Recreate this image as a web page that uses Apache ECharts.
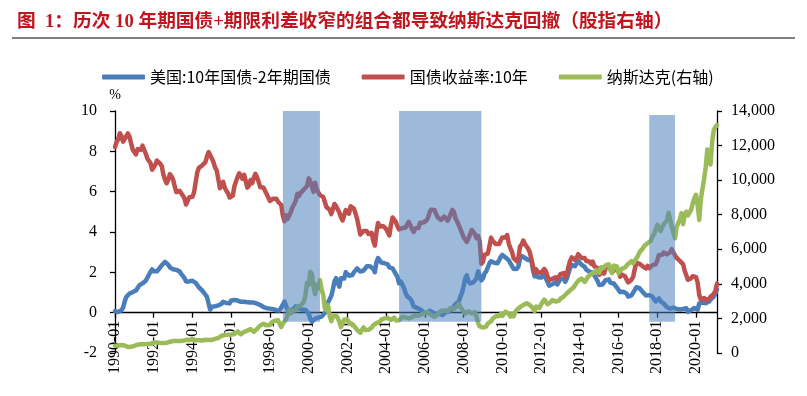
<!DOCTYPE html>
<html>
<head>
<meta charset="utf-8">
<script src="https://cdn.jsdelivr.net/npm/echarts@6/dist/echarts.min.js"></script>
<style>
    body { margin: 0; background: #fff; }
    #pageEcharts { width: 807px; height: 396px; }
</style>
</head>
<body>
<div id="pageEcharts"></div>
<script>
// 月度数据 1990-01 ~ 2021-02
var months = [];
for (var y = 1990; y <= 2021; y++) {
    for (var m = 1; m <= 12; m++) {
        if (y === 2021 && m > 2) break;
        months.push(y + '-' + (m < 10 ? '0' + m : m));
    }
}

// 美国:10年国债-2年期国债 (%)
var spread = [
    0.08,0.05,0.03,0.06,0.12,0.25,0.55,0.78,0.85,0.95,0.98,1.02,
    1.05,1.10,1.22,1.35,1.40,1.45,1.42,1.58,1.72,1.88,2.02,2.15,
    2.05,2.10,2.05,2.15,2.25,2.35,2.42,2.52,2.58,2.38,2.25,2.20,
    2.15,2.18,2.12,2.15,2.05,1.92,1.82,1.72,1.55,1.50,1.55,1.60,
    1.58,1.50,1.48,1.40,1.25,1.18,1.10,1.00,0.92,0.78,0.45,0.15,
    0.30,0.30,0.32,0.40,0.36,0.30,0.44,0.54,0.53,0.48,0.53,0.46,
    0.61,0.68,0.63,0.58,0.60,0.55,0.54,0.50,0.54,0.57,0.52,0.45,
    0.50,0.48,0.50,0.45,0.45,0.42,0.38,0.31,0.28,0.30,0.22,0.24,
    0.20,0.19,0.17,0.13,0.12,0.09,0.11,0.13,0.40,0.55,0.34,0.13,
    0.14,0.13,0.20,0.21,0.32,0.29,0.20,0.18,0.15,0.23,0.15,0.08,
    -0.05,-0.30,-0.45,-0.38,-0.30,-0.28,-0.25,-0.26,-0.20,-0.10,-0.05,0.09,
    0.50,0.58,0.83,1.15,1.55,1.71,1.49,1.29,1.71,1.80,1.69,2.01,
    1.96,1.83,1.92,1.87,2.00,2.01,2.19,2.13,2.04,2.03,2.09,2.10,
    2.30,2.27,2.30,2.36,2.17,2.01,2.51,2.71,2.63,2.48,2.44,2.45,
    2.39,2.39,2.25,2.28,2.20,2.13,1.91,1.77,1.45,1.55,1.40,1.24,
    0.99,0.81,0.80,0.69,0.54,0.31,0.26,0.24,0.22,0.17,0.11,0.03,
    0.02,-0.02,0.02,0.09,0.14,0.01,-0.04,-0.07,-0.05,-0.07,-0.12,-0.11,
    -0.04,0.02,0.08,0.05,0.02,0.19,0.28,0.43,0.52,0.53,0.80,0.98,
    1.30,1.70,1.85,1.55,1.45,1.40,1.50,1.60,1.70,2.05,2.10,1.60,
    1.70,1.95,2.05,2.10,2.45,2.55,2.46,2.47,2.42,2.45,2.60,2.76,
    2.86,2.85,2.73,2.80,2.60,2.44,2.42,2.17,2.18,2.18,2.30,2.70,
    2.81,2.81,2.71,2.73,2.61,2.60,2.60,2.10,1.80,1.90,1.76,1.72,
    1.74,1.69,1.86,1.78,1.52,1.34,1.29,1.41,1.49,1.51,1.40,1.46,
    1.65,1.72,1.70,1.53,1.69,1.96,2.22,2.37,2.42,2.30,2.43,2.57,
    2.49,2.38,2.31,2.27,2.13,2.15,2.03,1.96,1.97,1.85,1.81,1.57,
    1.37,1.36,1.39,1.38,1.61,1.66,1.65,1.48,1.45,1.45,1.40,1.24,
    1.21,1.02,1.04,1.04,1.03,0.94,0.80,0.84,0.86,0.92,1.12,1.26,
    1.24,1.21,1.17,1.03,0.99,0.85,0.93,0.87,0.79,0.80,0.66,0.56,
    0.55,0.71,0.57,0.48,0.45,0.36,0.27,0.24,0.20,0.28,0.25,0.17,
    0.18,0.18,0.16,0.20,0.18,0.23,0.22,0.04,0.06,0.13,0.19,0.23,
    0.20,0.15,0.46,0.46,0.50,0.53,0.47,0.51,0.54,0.65,0.72,0.80,
    0.96,1.16
];

// 国债收益率:10年 (%)
var yield10 = [
    8.21,8.47,8.59,8.90,8.76,8.48,8.47,8.75,8.89,8.72,8.39,8.08,
    8.09,7.85,8.11,8.04,8.07,8.28,8.27,7.90,7.65,7.53,7.42,7.09,
    7.03,7.34,7.54,7.48,7.39,7.26,6.84,6.59,6.42,6.59,6.87,6.77,
    6.60,6.26,5.98,5.97,6.04,5.96,5.81,5.68,5.36,5.33,5.72,5.77,
    5.75,5.97,6.48,6.97,7.18,7.10,7.30,7.24,7.46,7.74,7.96,7.81,
    7.78,7.47,7.20,7.06,6.63,6.17,6.28,6.49,6.20,6.04,5.93,5.71,
    5.65,5.81,6.27,6.51,6.74,6.91,6.87,6.64,6.83,6.53,6.20,6.30,
    6.58,6.42,6.69,6.89,6.71,6.49,6.22,6.30,6.21,6.03,5.88,5.81,
    5.54,5.57,5.65,5.64,5.65,5.50,5.46,5.34,4.81,4.53,4.83,4.65,
    4.72,5.00,5.23,5.18,5.54,5.90,5.79,5.94,5.92,6.11,6.03,6.28,
    6.66,6.52,6.26,5.99,6.44,6.10,6.05,5.83,5.80,5.74,5.72,5.24,
    5.16,5.10,4.89,5.14,5.39,5.28,5.24,4.97,4.73,4.57,4.65,5.09,
    5.04,4.91,5.28,5.21,5.16,4.93,4.65,4.26,3.87,3.94,4.05,4.03,
    4.05,3.90,3.81,3.96,3.57,3.33,3.98,4.45,4.27,4.29,4.30,4.27,
    4.15,4.08,3.83,4.35,4.72,4.73,4.50,4.28,4.13,4.10,4.19,4.23,
    4.22,4.17,4.50,4.34,4.14,4.00,4.18,4.26,4.20,4.46,4.54,4.47,
    4.42,4.57,4.72,4.99,5.11,5.11,5.09,4.88,4.72,4.73,4.60,4.56,
    4.76,4.72,4.56,4.69,4.75,5.10,5.00,4.67,4.52,4.53,4.15,4.10,
    3.74,3.74,3.51,3.68,3.88,4.10,4.01,3.89,3.69,3.81,3.53,2.42,
    2.52,2.87,2.82,2.93,3.29,3.72,3.56,3.59,3.40,3.39,3.40,3.59,
    3.73,3.69,3.73,3.85,3.42,3.20,3.01,2.70,2.65,2.54,2.76,3.29,
    3.39,3.58,3.41,3.46,3.17,3.00,3.00,2.30,1.98,2.15,2.01,1.98,
    1.97,1.97,2.17,2.05,1.80,1.62,1.53,1.68,1.72,1.75,1.65,1.72,
    1.91,1.98,1.96,1.76,1.93,2.30,2.58,2.74,2.81,2.62,2.72,2.90,
    2.86,2.71,2.72,2.71,2.56,2.60,2.54,2.42,2.53,2.30,2.33,2.21,
    1.88,1.98,2.04,1.94,2.20,2.36,2.32,2.17,2.17,2.07,2.26,2.24,
    2.09,1.78,1.89,1.81,1.81,1.64,1.50,1.56,1.63,1.76,2.14,2.49,
    2.43,2.42,2.48,2.30,2.30,2.19,2.32,2.21,2.20,2.36,2.35,2.40,
    2.58,2.86,2.84,2.87,2.98,2.91,2.89,2.89,3.00,3.15,3.12,2.83,
    2.71,2.68,2.57,2.53,2.40,2.07,2.06,1.63,1.70,1.71,1.81,1.86,
    1.76,1.50,0.87,0.66,0.67,0.73,0.62,0.65,0.68,0.79,0.87,0.93,
    1.08,1.45
];

// 纳斯达克(右轴)
var nasdaq = [
    416,426,436,420,458,462,438,381,345,330,359,374,
    414,453,482,485,506,476,502,526,527,543,524,586,
    620,634,604,579,585,564,581,563,583,605,653,677,
    696,671,690,661,701,704,705,743,763,779,754,777,
    800,793,744,734,735,706,722,766,764,778,750,752,
    755,794,817,844,865,934,1001,1020,1044,1036,1059,1052,
    1060,1100,1101,1191,1243,1185,1081,1142,1227,1222,1293,1291,
    1380,1309,1222,1261,1400,1442,1594,1587,1686,1594,1601,1570,
    1619,1771,1836,1868,1779,1895,1872,1499,1694,1771,1950,2193,
    2506,2288,2461,2543,2471,2686,2639,2739,2746,2966,3336,4069,
    3940,4697,4573,3861,3401,3966,3767,4206,3673,3370,2598,2471,
    2773,2152,1840,2116,2111,2161,2027,1805,1499,1690,1931,1950,
    1934,1732,1845,1688,1616,1463,1328,1315,1172,1330,1479,1336,
    1321,1338,1341,1464,1596,1623,1735,1811,1787,1932,1960,2003,
    2066,2030,1994,1920,1987,2048,1887,1838,1897,1975,2097,2175,
    2062,2052,1999,1922,2068,2057,2185,2152,2152,2120,2233,2205,
    2306,2281,2340,2323,2179,2172,2092,2184,2258,2367,2432,2415,
    2464,2416,2422,2525,2605,2603,2546,2596,2702,2859,2661,2652,
    2390,2272,2279,2413,2523,2293,2326,2368,2092,1721,1536,1577,
    1476,1378,1529,1717,1774,1835,1979,2009,2122,2045,2145,2269,
    2147,2238,2398,2461,2257,2109,2255,2114,2369,2507,2498,2653,
    2700,2782,2781,2874,2835,2774,2756,2580,2415,2684,2620,2605,
    2814,2967,3092,3046,2827,2935,2940,3067,3116,2977,3010,3020,
    3142,3160,3268,3329,3456,3403,3626,3590,3772,3920,4060,4177,
    4104,4308,4199,4115,4243,4408,4370,4580,4493,4631,4792,4736,
    4635,4964,4901,4941,5070,4987,5128,4777,4620,5054,5109,5007,
    4614,4558,4870,4775,4948,4843,5162,5213,5312,5189,5324,5383,
    5615,5825,5912,6048,6199,6140,6348,6429,6496,6728,6874,6903,
    7412,7273,7063,7066,7442,7510,7672,8110,8046,7306,7331,6635,
    7282,7533,7729,8095,7453,8006,8175,7963,7999,8292,8666,8973,
    9151,8567,7700,8890,9490,10059,10745,11776,11168,10912,12199,12888,
    13071,13192
];

// 阴影区间: [起, 止, 下沿, 上沿(左轴)]
var shadeRanges = [
    ['1998-09', '2000-08', -0.45, 10.1],
    ['2004-09', '2008-12', -0.45, 10.1],
    ['2017-08', '2018-12', -0.45, 9.8]
];

var seriesNames = ['美国:10年国债-2年期国债', '国债收益率:10年', '纳斯达克(右轴)'];

var serif = 'Liberation Serif';
var cjk = 'Noto Sans CJK SC';
var black = '#000';

function thousands(v) {
    return String(v).replace(/\B(?=(\d{3})+(?!\d))/g, ',');
}

var gridTop = 111, gridBottom = 43;
var gridHeight = 396 - gridTop - gridBottom;
// x 轴标签跟随 0 刻度线
var zeroOffset = -gridHeight * 2 / 12;

var myChart = echarts.init(document.getElementById("pageEcharts"));
var option = {
    animation: false,
    backgroundColor: '#fff',
    title: {
        text: '图  1：历次 10 年期国债+期限利差收窄的组合都导致纳斯达克回撤（股指右轴）',
        left: 12,
        top: 8,
        textStyle: {
            color: '#C0161F',
            fontFamily: serif + ', ' + cjk,
            fontWeight: 'bold',
            fontSize: 18.7
        }
    },
    graphic: [{
        type: 'line',
        shape: {x1: 12, y1: 38, x2: 795, y2: 38},
        style: {stroke: black, lineWidth: 1}
    }],
    legend: {
        data: seriesNames,
        left: 97,
        top: 64,
        icon: 'roundRect',
        itemWidth: 43,
        itemHeight: 5,
        itemGap: 31,
        textStyle: {
            color: black,
            fontFamily: cjk,
            fontSize: 16
        }
    },
    grid: {
        left: 115,
        right: 90,
        top: gridTop,
        bottom: gridBottom,
        containLabel: false,
        outerBoundsMode: 'none'
    },
    xAxis: [
        {
            type: 'category',
            data: months,
            boundaryGap: false,
            axisLine: {
                onZero: true,
                onZeroAxisIndex: 0,
                lineStyle: {color: black, width: 1.3}
            },
            axisTick: {
                interval: 23,
                length: 5,
                lineStyle: {color: black, width: 1.3}
            },
            axisLabel: {show: false},
            splitLine: {show: false}
        },
        {
            type: 'category',
            data: months,
            boundaryGap: false,
            position: 'bottom',
            offset: zeroOffset,
            axisLine: {show: false, onZero: false},
            axisTick: {show: false},
            axisLabel: {
                interval: 23,
                rotate: 90,
                margin: 8,
                color: black,
                fontFamily: serif,
                fontSize: 16
            },
            splitLine: {show: false}
        }
    ],
    yAxis: [
        {
            type: 'value',
            min: -2,
            max: 10,
            interval: 2,
            name: '%',
            nameGap: 9,
            nameTextStyle: {color: black, fontFamily: serif, fontSize: 14},
            axisLine: {show: true, lineStyle: {color: black, width: 1.3}},
            axisTick: {show: true, length: 5, lineStyle: {color: black, width: 1.3}},
            axisLabel: {color: black, fontFamily: serif, fontSize: 16, margin: 18},
            splitLine: {show: false}
        },
        {
            type: 'value',
            min: 0,
            max: 14000,
            interval: 2000,
            position: 'right',
            axisLine: {show: true, lineStyle: {color: black, width: 1.3}},
            axisTick: {show: true, length: 5, lineStyle: {color: black, width: 1.3}},
            axisLabel: {
                color: black,
                fontFamily: serif,
                fontSize: 16,
                margin: 14,
                formatter: thousands
            },
            splitLine: {show: false}
        }
    ],
    series: [
        {
            name: seriesNames[0],
            type: 'line',
            data: spread,
            symbol: 'none',
            z: 2,
            itemStyle: {color: '#4A7EBB'},
            lineStyle: {color: '#4A7EBB', width: 4.5, cap: 'round', join: 'round'}
        },
        {
            name: seriesNames[1],
            type: 'line',
            data: yield10,
            symbol: 'none',
            z: 2,
            itemStyle: {color: '#C0504D'},
            lineStyle: {color: '#C0504D', width: 4.5, cap: 'round', join: 'round'}
        },
        {
            name: seriesNames[2],
            type: 'line',
            yAxisIndex: 1,
            data: nasdaq,
            symbol: 'none',
            z: 2,
            itemStyle: {color: '#9BBB59'},
            lineStyle: {color: '#9BBB59', width: 4.5, cap: 'round', join: 'round'}
        },
        {
            // 半透明阴影盖在线上
            name: 'shade',
            type: 'line',
            data: [],
            z: 10,
            clip: false,
            silent: true,
            markArea: {
                silent: true,
                z: 10,
                itemStyle: {color: 'rgba(79,129,189,0.55)'},
                data: shadeRanges.map(function (r) {
                    return [{xAxis: r[0], yAxis: r[2]}, {xAxis: r[1], yAxis: r[3]}];
                })
            }
        }
    ]
};
myChart.setOption(option);
</script>
</body>
</html>
